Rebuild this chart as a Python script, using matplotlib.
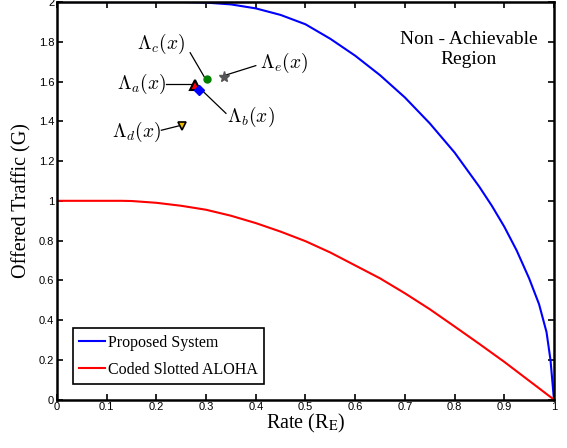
import matplotlib.pyplot as plt
import numpy as np

# curva do sistema proposto (azul)
rate_prop = [0, 0.1, 0.2, 0.25, 0.3, 0.35, 0.4, 0.45, 0.5, 0.55, 0.6, 0.65, 0.7, 0.75,
             0.8, 0.85, 0.875, 0.9, 0.925, 0.95, 0.97, 0.985, 0.993, 1.0]
g_prop = [2, 2, 2, 2, 1.997, 1.988, 1.968, 1.935, 1.888, 1.815, 1.73, 1.632, 1.52, 1.39,
          1.243, 1.07, 0.975, 0.87, 0.75, 0.61, 0.48, 0.34, 0.2, 0]

# curva do Coded Slotted ALOHA (vermelho)
rate_csa = [0, 0.1, 0.13, 0.15, 0.2, 0.25, 0.3, 0.35, 0.4, 0.45, 0.5, 0.55, 0.6, 0.65,
            0.7, 0.75, 0.8, 0.85, 0.9, 0.95, 1.0]
g_csa = [1, 1, 1, 0.999, 0.99, 0.975, 0.955, 0.925, 0.888, 0.845, 0.797, 0.74, 0.675,
         0.61, 0.535, 0.455, 0.368, 0.28, 0.19, 0.095, 0]

# pontos das distribuições
pontos_x = [0.278, 0.286, 0.301, 0.251, 0.336]
pontos_y = [1.583, 1.558, 1.611, 1.378, 1.621]
nomes = ['a', 'b', 'c', 'd', 'e']
# posição dos rótulos
rot_x = [0.17, 0.39, 0.21, 0.16, 0.458]
rot_y = [1.59, 1.42, 1.79, 1.348, 1.695]

fig = plt.figure(figsize=(5.67, 4.48), dpi=100)
ax = fig.add_axes([0.1005, 0.108, 0.8765, 0.8875])

ax.plot(rate_prop, g_prop, color='blue', lw=1.5, label='Proposed System')
ax.plot(rate_csa, g_csa, color='red', lw=1.5, label='Coded Slotted ALOHA')

estilos = [
    dict(marker='^', mfc='red', mec='black', ms=7, mew=1.5),
    dict(marker='D', mfc='blue', mec='blue', ms=5),
    dict(marker='o', mfc='green', mec='green', ms=5),
    dict(marker='v', mfc='#f0c000', mec='black', ms=6, mew=1.2),
    dict(marker='*', mfc='#555555', mec='#555555', ms=8),
]
ordem = [0, 2, 4, 3, 1]
for i in ordem:
    ax.plot(pontos_x[i], pontos_y[i], ls='none', zorder=5, **estilos[i])

# anotações (linhas dos rótulos até os marcadores)
fim_x = [0.272, 0.292, 0.296, 0.25, 0.33]
fim_y = [1.59, 1.555, 1.625, 1.38, 1.625]
ini_x = [0.22, 0.34, 0.268, 0.21, 0.4]
ini_y = [1.59, 1.44, 1.745, 1.355, 1.68]
for i, n in enumerate(nomes):
    ax.plot([ini_x[i], fim_x[i]], [ini_y[i], fim_y[i]], color='black', lw=0.9, zorder=4)
    ax.text(rot_x[i], rot_y[i], r'$\Lambda_{%s}(x)$' % n, fontsize=14,
            math_fontfamily='cm', ha='center', va='center')

ax.text(0.829, 1.763, 'Non - Achievable\nRegion', fontsize=14, family='Liberation Serif',
        ha='center', va='center', linespacing=1.25)

ax.set_xlim(0, 1)
ax.set_ylim(0, 2)
ax.set_xticks(np.arange(0, 1.01, 0.1))
ax.set_xticklabels(['0', '0.1', '0.2', '0.3', '0.4', '0.5', '0.6', '0.7', '0.8', '0.9', '1'])
ax.set_yticks(np.arange(0, 2.01, 0.2))
ax.set_yticklabels(['0', '0.2', '0.4', '0.6', '0.8', '1', '1.2', '1.4', '1.6', '1.8', '2'])
ax.tick_params(direction='in', top=True, right=True, labelsize=8, length=4, width=1.2,
               pad=2)
for lab in ax.get_xticklabels() + ax.get_yticklabels():
    lab.set_family('Liberation Sans')
for s in ax.spines.values():
    s.set_linewidth(1.8)

ax.set_xlabel(r'Rate (R$_{\rm E}$)', fontsize=14.5, family='Liberation Serif',
              math_fontfamily='stix', labelpad=0)
ax.set_ylabel('Offered Traffic (G)', fontsize=14.5, family='Liberation Serif', labelpad=5)

leg = ax.legend(loc='lower left', bbox_to_anchor=(0.0316, 0.039),
                prop={'family': 'Liberation Serif', 'size': 11.5},
                fancybox=False, edgecolor='black', framealpha=1, handlelength=1.6,
                handletextpad=0.2, borderpad=0.4, labelspacing=0.7, borderaxespad=0)
leg.get_frame().set_linewidth(1.2)

fig.savefig('out.png', dpi=100)
